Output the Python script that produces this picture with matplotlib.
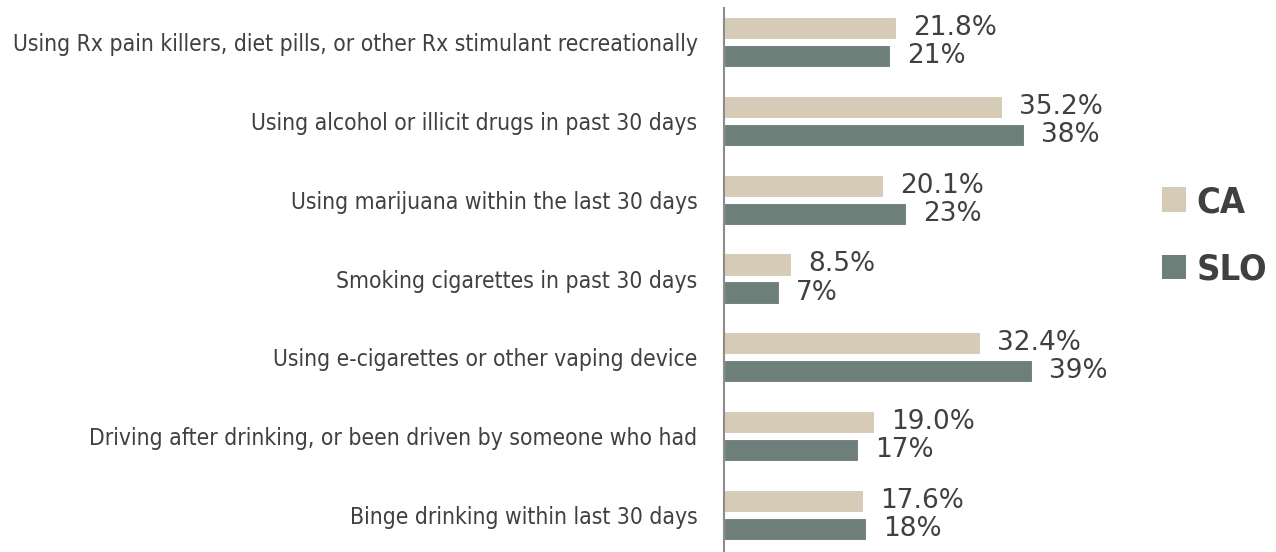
import matplotlib
matplotlib.use("Agg")
import matplotlib.pyplot as plt
import numpy as np
from matplotlib.patches import Patch

categories = [
    "Using Rx pain killers, diet pills, or other Rx stimulant recreationally",
    "Using alcohol or illicit drugs in past 30 days",
    "Using marijuana within the last 30 days",
    "Smoking cigarettes in past 30 days",
    "Using e-cigarettes or other vaping device",
    "Driving after drinking, or been driven by someone who had",
    "Binge drinking within last 30 days",
]
ca_values = [21.8, 35.2, 20.1, 8.5, 32.4, 19.0, 17.6]
slo_values = [21, 38, 23, 7, 39, 17, 18]
ca_labels = ["21.8%", "35.2%", "20.1%", "8.5%", "32.4%", "19.0%", "17.6%"]
slo_labels = ["21%", "38%", "23%", "7%", "39%", "17%", "18%"]
series_names = ["CA", "SLO"]

CA_COLOR = "#D5CBB7"
SLO_COLOR = "#6E7F79"
TEXT = "#404040"

W, H = 1276, 552
fig = plt.figure(figsize=(W / 100, H / 100), dpi=100)
ax_left, ax_right = 724, 1100
ax = fig.add_axes([ax_left / W, 0, (ax_right - ax_left) / W, 1 - 8 / H])

y = np.arange(len(categories))
bh = 0.28
off = 0.178
ax.barh(y - off, ca_values, height=bh, color=CA_COLOR, edgecolor="white", linewidth=0.8)
ax.barh(y + off, slo_values, height=bh, color=SLO_COLOR, edgecolor="white", linewidth=0.8)

px_per_unit = 7.9
ax.set_xlim(0, (ax_right - ax_left) / px_per_unit)
ax.set_ylim(6 + 0.469, -0.431)

dx = 17 / px_per_unit
for i in range(len(categories)):
    ax.text(ca_values[i] + dx, y[i] - off, ca_labels[i], va="center", ha="left",
            fontsize=19, color=TEXT)
    ax.text(slo_values[i] + dx, y[i] + off, slo_labels[i], va="center", ha="left",
            fontsize=19, color=TEXT)

ax.set_yticks(y)
ax.set_yticklabels(categories, fontsize=16.4, color=TEXT, family="DejaVu Sans",
                   fontstretch="condensed")
ax.tick_params(axis="y", length=0, pad=19)
ax.set_xticks([])
for s in ["top", "right", "bottom"]:
    ax.spines[s].set_visible(False)
ax.spines["left"].set_color("#8C8C8C")
ax.spines["left"].set_linewidth(1.5)

handles = [Patch(facecolor=CA_COLOR), Patch(facecolor=SLO_COLOR)]
leg = fig.legend(handles, series_names, loc="center left",
                 bbox_to_anchor=(1148 / W, 1 - 236 / H), frameon=False,
                 prop={"family": "DejaVu Sans", "stretch": "condensed",
                       "weight": "semibold", "size": 26},
                 handlelength=0.65, handleheight=0.65, handletextpad=0.3,
                 labelspacing=0.93, borderaxespad=0)
for t in leg.get_texts():
    t.set_color(TEXT)

fig.savefig("out.png", dpi=100, facecolor="white")
